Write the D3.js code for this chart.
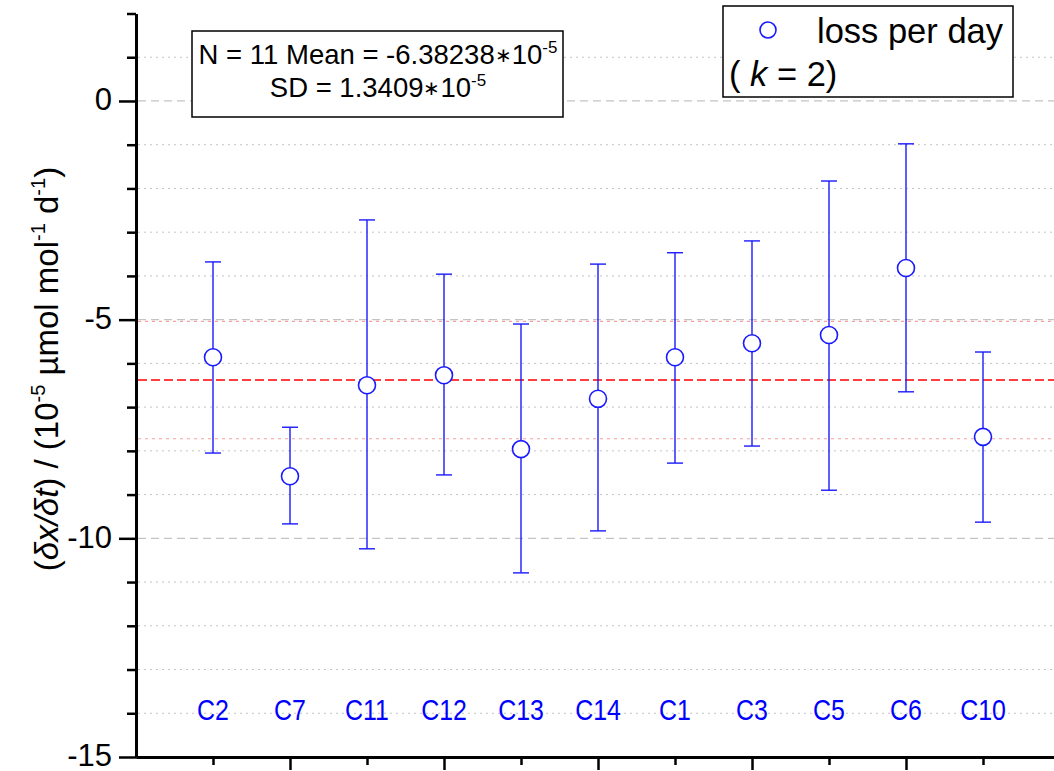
<!DOCTYPE html>
<html>
<head>
<meta charset="utf-8">
<script src="https://cdn.jsdelivr.net/npm/d3@7"></script>
<style>
  body { margin: 0; background: #fff; }
  svg { display: block; }
</style>
</head>
<body>
<script>
// the data (units of 10^-5 umol/mol per day)
var categories = ["C2", "C7", "C11", "C12", "C13", "C14", "C1", "C3", "C5", "C6", "C10"];
var lossValues = [-5.86, -8.58, -6.50, -6.27, -7.96, -6.81, -5.86, -5.54, -5.35, -3.82, -7.68];
var upperBar   = [-3.68, -7.46, -2.72, -3.96, -5.10, -3.73, -3.47, -3.20, -1.83, -0.98, -5.74];
var lowerBar   = [-8.05, -9.67, -10.24, -8.55, -10.79, -9.83, -8.28, -7.89, -8.90, -6.65, -9.63];
var majorY = [-15, -10, -5, 0];
var minorY = [-14, -13, -12, -11, -9, -8, -7, -6, -4, -3, -2, -1, 1, 2];
var majorX = [2, 4, 6, 8, 10];
var minorX = [1, 3, 5, 7, 9, 11];
var meanValue = -6.38238;
var sdValue = 1.3409;

var full_width = 1054, full_height = 771;

var svg = d3.select("body").append("svg")
  .attr("width", full_width)
  .attr("height", full_height);

// scales: category index on x, value on y
var x = d3.scaleLinear().domain([0, 12]).range([136, 1060]);
var y = d3.scaleLinear().domain([-15, 2]).range([757, 13.5]);

var font = "'Liberation Sans', Arial, sans-serif";

// grid lines
svg.append("g").selectAll("line")
  .data(minorY.filter(function(v) { return v !== 2; }))
  .enter().append("line")
  .attr("x1", 138).attr("x2", full_width)
  .attr("y1", function(d) { return y(d); })
  .attr("y2", function(d) { return y(d); })
  .attr("stroke", "#c4c4c4")
  .attr("stroke-width", 1)
  .attr("stroke-dasharray", "2,4");

svg.append("g").selectAll("line")
  .data(majorY.filter(function(v) { return v !== -15; }))
  .enter().append("line")
  .attr("x1", 138).attr("x2", full_width)
  .attr("y1", function(d) { return y(d); })
  .attr("y2", function(d) { return y(d); })
  .attr("stroke", "#c4c4c4")
  .attr("stroke-width", 1.2)
  .attr("stroke-dasharray", "8,5");

// mean and +/- SD lines
svg.append("g").selectAll("line")
  .data([meanValue + sdValue, meanValue - sdValue])
  .enter().append("line")
  .attr("x1", 138).attr("x2", full_width)
  .attr("y1", function(d) { return y(d); })
  .attr("y2", function(d) { return y(d); })
  .attr("stroke", "#f4a0a0")
  .attr("stroke-width", 1.2)
  .attr("stroke-dasharray", "3,4");

svg.append("line")
  .attr("x1", 138).attr("x2", full_width)
  .attr("y1", y(meanValue)).attr("y2", y(meanValue))
  .attr("stroke", "#ff0000")
  .attr("stroke-width", 1.5)
  .attr("stroke-dasharray", "9,4");

// error bars
var blue = "#1a1aff";
var capHalf = 8;
var bars = svg.append("g").selectAll("g")
  .data(categories)
  .enter().append("g");

bars.append("line")
  .attr("x1", function(d, i) { return x(i + 1); })
  .attr("x2", function(d, i) { return x(i + 1); })
  .attr("y1", function(d, i) { return y(upperBar[i]); })
  .attr("y2", function(d, i) { return y(lowerBar[i]); })
  .attr("stroke", blue).attr("stroke-width", 1.4);

bars.append("line")
  .attr("x1", function(d, i) { return x(i + 1) - capHalf; })
  .attr("x2", function(d, i) { return x(i + 1) + capHalf; })
  .attr("y1", function(d, i) { return y(upperBar[i]); })
  .attr("y2", function(d, i) { return y(upperBar[i]); })
  .attr("stroke", blue).attr("stroke-width", 1.4);

bars.append("line")
  .attr("x1", function(d, i) { return x(i + 1) - capHalf; })
  .attr("x2", function(d, i) { return x(i + 1) + capHalf; })
  .attr("y1", function(d, i) { return y(lowerBar[i]); })
  .attr("y2", function(d, i) { return y(lowerBar[i]); })
  .attr("stroke", blue).attr("stroke-width", 1.4);

bars.append("circle")
  .attr("cx", function(d, i) { return x(i + 1); })
  .attr("cy", function(d, i) { return y(lossValues[i]); })
  .attr("r", 8.5)
  .attr("fill", "#fff")
  .attr("stroke", blue).attr("stroke-width", 1.6);

// category names inside the plot (squeezed a bit, like a narrow face)
svg.append("g").selectAll("text")
  .data(categories)
  .enter().append("text")
  .attr("transform", function(d, i) { return "translate(" + x(i + 1) + ",720) scale(0.86,1)"; })
  .attr("text-anchor", "middle")
  .attr("font-family", font)
  .attr("font-size", "29px")
  .attr("fill", "#0000ff")
  .text(function(d) { return d; });

// y axis, major and minor ticks
var yMajor = svg.append("g")
  .attr("transform", "translate(136,0)")
  .call(d3.axisLeft(y).tickValues(majorY).tickSize(17).tickPadding(7).tickSizeOuter(0));
var yMinor = svg.append("g")
  .attr("transform", "translate(136,0)")
  .call(d3.axisLeft(y).tickValues(minorY).tickSize(9).tickFormat("").tickSizeOuter(0));

// x axis, no labels
var xMajor = svg.append("g")
  .attr("transform", "translate(0,757)")
  .call(d3.axisBottom(x).tickValues(majorX).tickSize(13).tickFormat("").tickSizeOuter(0));
var xMinor = svg.append("g")
  .attr("transform", "translate(0,757)")
  .call(d3.axisBottom(x).tickValues(minorX).tickSize(8).tickFormat("").tickSizeOuter(0));

[yMajor, yMinor, xMajor, xMinor].forEach(function(ax) {
  ax.select(".domain").attr("stroke", "#000").attr("stroke-width", 3);
  ax.selectAll(".tick line").attr("stroke", "#000").attr("stroke-width", 2.5);
});
yMajor.selectAll(".tick text")
  .attr("font-family", font)
  .attr("font-size", "31px")
  .attr("dy", "0.28em")
  .attr("fill", "#000")
  .text(function(d) { return d === 0 ? "0" : "-" + Math.abs(d); });

// y axis title
var ytitle = svg.append("text")
  .attr("transform", "translate(58,369) rotate(-90)")
  .attr("text-anchor", "middle")
  .attr("font-family", font)
  .attr("font-size", "33px")
  .attr("fill", "#000");
ytitle.append("tspan").text("(");
ytitle.append("tspan").attr("font-style", "italic").text("\u03b4x/\u03b4t");
ytitle.append("tspan").text(") / (10");
ytitle.append("tspan").attr("font-size", "20px").attr("dy", -13).text("-5");
ytitle.append("tspan").attr("dy", 13).text(" \u00b5mol mol");
ytitle.append("tspan").attr("font-size", "20px").attr("dy", -13).text("-1");
ytitle.append("tspan").attr("dy", 13).text(" d");
ytitle.append("tspan").attr("font-size", "20px").attr("dy", -13).text("-1");
ytitle.append("tspan").attr("dy", 13).text(")");

// statistics box
svg.append("rect")
  .attr("x", 192).attr("y", 31)
  .attr("width", 371).attr("height", 86)
  .attr("fill", "#fff").attr("stroke", "#000").attr("stroke-width", 1.5);

var line1 = svg.append("text")
  .attr("x", 378).attr("y", 64)
  .attr("text-anchor", "middle")
  .attr("font-family", font).attr("font-size", "27.5px");
line1.append("tspan").text("N = 11 Mean = " + meanValue);
line1.append("tspan").attr("font-size", "20px").attr("dy", -2).text("\u2217");
line1.append("tspan").attr("dy", 2).text("10");
line1.append("tspan").attr("font-size", "17px").attr("dy", -11).text("-5");

var line2 = svg.append("text")
  .attr("x", 378).attr("y", 97)
  .attr("text-anchor", "middle")
  .attr("font-family", font).attr("font-size", "27.5px");
line2.append("tspan").text("SD = " + sdValue);
line2.append("tspan").attr("font-size", "20px").attr("dy", -2).text("\u2217");
line2.append("tspan").attr("dy", 2).text("10");
line2.append("tspan").attr("font-size", "17px").attr("dy", -11).text("-5");

// legend
svg.append("rect")
  .attr("x", 723).attr("y", 6)
  .attr("width", 290).attr("height", 91)
  .attr("fill", "#fff").attr("stroke", "#000").attr("stroke-width", 1.5);
svg.append("circle")
  .attr("cx", 768).attr("cy", 30).attr("r", 8)
  .attr("fill", "#fff").attr("stroke", blue).attr("stroke-width", 1.6);
svg.append("text")
  .attr("x", 817).attr("y", 43)
  .attr("font-family", font).attr("font-size", "34.5px")
  .text("loss per day");
var kText = svg.append("text")
  .attr("x", 729).attr("y", 86)
  .attr("font-family", font).attr("font-size", "34.5px");
kText.append("tspan").text("( ");
kText.append("tspan").attr("font-style", "italic").text("k");
kText.append("tspan").text(" = 2)");
</script>
</body>
</html>
